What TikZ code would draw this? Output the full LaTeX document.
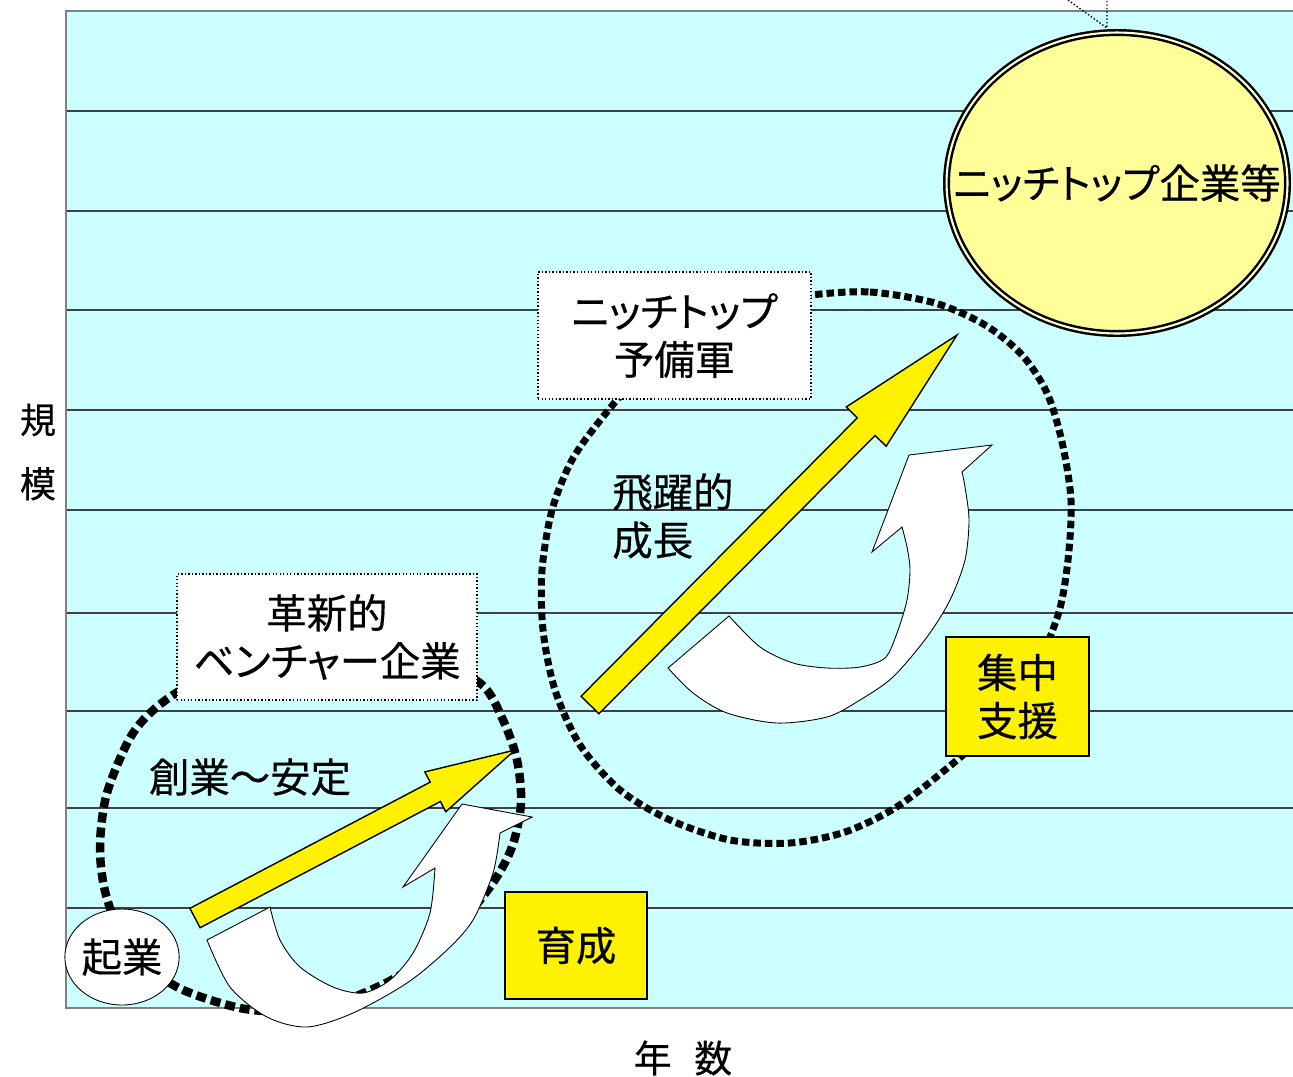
\documentclass[tikz,border=0pt]{standalone}
\usepackage{fontspec}
\setmainfont[RawFeature=+palt, FakeBold=0.4]{Noto Sans CJK JP}
\usepackage{xcolor}
\usepackage{tikz}
\usetikzlibrary{arrows.meta,positioning,calc,shapes.geometric}
\definecolor{bgcyan}{HTML}{CCFFFF}
\definecolor{paleyellow}{HTML}{FFFF99}

\begin{document}
\begin{tikzpicture}[x=0.02cm, y=-0.02cm,
    jtext/.style={font=\fontsize{23}{27.3}\selectfont, align=center, inner sep=0pt},
    dotbox/.style={jtext, rectangle, draw, line width=0.8pt, dash pattern=on 0.8pt off 1.2pt, fill=white},
    yelbox/.style={jtext, rectangle, draw, line width=0.9pt, fill=yellow},
    stage/.style={line width=0.14cm, dash pattern=on 0.15cm off 0.08cm},
    growth/.style={draw, line width=0.8pt, fill=yellow, line join=miter},
    support/.style={draw, line width=0.5pt, fill=white}
]

% Background and grid
\useasboundingbox (0,0) rectangle (1293,1076);
\fill[bgcyan] (66,11) rectangle (1293,1008);
\foreach \y in {111,211,310,410,510,613,711,808,908}
  \draw[line width=0.6pt, black!75] (66,\y) -- (1293,\y);
\draw[line width=1.6pt, gray] (1293,11) -- (66,11) -- (66,1008) -- (1293,1008);

% Axis labels
\node[jtext, font=\fontsize{20.5}{36.4}\selectfont] (scale) at (38,452) {規\\模};
\node[jtext, font=\fontsize{21.5}{24}\selectfont] (years) at (683,1058) {年\hspace{0.6em}数};

% Callout pointer (cut off at the top)
\coordinate (callout) at (1107,28);
\draw[line width=0.8pt, dash pattern=on 0.8pt off 1.2pt] (1068,0) -- (callout) -- (1107,0);

% Stage outlines (dashed)
\draw[stage, line width=0.17cm, dash pattern=on 0.2cm off 0.1cm]
  plot[smooth cycle] coordinates {(330,648) (420,658) (480,683) (503,720) (517,760)
  (521,803) (512,847) (490,887) (445,940) (397,977) (340,1002) (290,1011) (240,1008)
  (177,987) (128,948) (106,895) (100,847) (107,793) (133,733) (170,697) (240,660)};
\draw[stage]
  plot[smooth cycle] coordinates {(811,295) (870,292) (935,303) (985,325) (1022,355)
  (1047,393) (1062,442) (1071,500) (1068,560) (1058,615) (1030,680) (990,730) (945,770)
  (895,808) (845,832) (790,843) (730,840) (670,820) (620,790) (580,745) (555,690)
  (543,630) (542,570) (552,510) (572,460) (602,418) (640,375) (690,335) (750,305)};

% Support arrows (white, curved)
\draw[support] (207,940) -- plot[smooth] coordinates {(207,940) (230,987) (267,1017)
  (307,1027) (353,1013) (407,983) (447,950) (473,920) (493,873) (500,833)}
  -- (532,817) -- (462,804) -- (403,887) -- (435,868)
  -- plot[smooth] coordinates {(435,868) (430,913) (413,953) (390,980) (363,993)
  (333,987) (300,967) (280,940) (270,907)} -- cycle;
\draw[support] (668,668) -- plot[smooth] coordinates {(668,668) (693,693) (727,713)
  (777,723) (827,717) (860,700) (893,677) (927,637) (950,600) (965,560) (969,520)
  (965,487) (962,472)}
  -- (992,445) -- (909,455) -- (872,552) -- (902,527)
  -- plot[smooth] coordinates {(902,527) (907,547) (910,570) (907,600) (897,633)
  (885,658) (860,667) (827,668) (793,663) (760,647) (729,616)} -- cycle;

% Growth arrows (yellow)
\draw[growth] (200.1,927.7) -- (440.4,801.5) -- (445.8,811.7) -- (515,750)
  -- (424.8,771.9) -- (430.2,782.1) -- (189.9,908.3) -- cycle;
\draw[growth] (598.9,713.8) -- (875.1,435.4) -- (886.1,446.3) -- (957,335)
  -- (846.3,406.9) -- (857.3,417.8) -- (581.1,696.2) -- cycle;

% Stages
\node[jtext, draw, ellipse, fill=white, line width=0.5pt, minimum width=2.2cm,
  minimum height=1.92cm] (start) at (122,957) {起業};
\node[dotbox, minimum width=6cm, minimum height=2.52cm] (venture) at (327,637)
  {革新的\\ベンチャー企業};
\node[dotbox, minimum width=5.46cm, minimum height=2.54cm] (reserve) at (674.5,335.5)
  {ニッチトップ\\予備軍};
\node[draw, ellipse, fill=paleyellow, line width=1.4pt, double=paleyellow!40!white,
  double distance=1.2pt, inner sep=0pt, minimum width=6.82cm, minimum height=6.02cm]
  (top) at (1117,183) {};
\node[jtext] (toplabel) at (top.center) {ニッチトップ企業等};

% Phases
\node[jtext] (phase1) at (250,777) {創業～安定};
\node[jtext, align=left, anchor=west] (phase2) at (612,516) {飛躍的\\成長};

% Policies
\node[yelbox, minimum width=2.84cm, minimum height=2.14cm] (foster) at (576,945.5) {育成};
\node[yelbox, minimum width=2.86cm, minimum height=2.38cm] (focus) at (1017.5,696.5)
  {集中\\支援};

\end{tikzpicture}
\end{document}
